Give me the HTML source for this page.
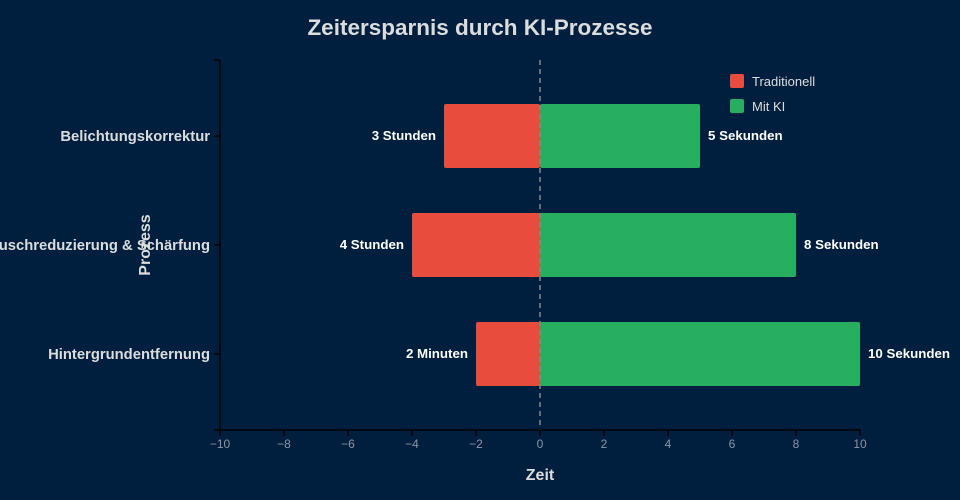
<!DOCTYPE html>
<html><head><meta charset="utf-8"><style>
html,body{margin:0;padding:0;background:#001f3f;}
svg{display:block;font-family:"Liberation Sans",sans-serif;}
</style></head><body>
<svg width="960" height="500" viewBox="0 0 960 500">
<rect width="960" height="500" fill="#001f3f"/>
<text x="480" y="35" text-anchor="middle" font-size="22.5" font-weight="bold" fill="#dcdcdc">Zeitersparnis durch KI-Prozesse</text>
<rect x="444" y="104" width="96" height="64" rx="2" fill="#e74c3c"/>
<rect x="540" y="104" width="160" height="64" rx="2" fill="#27ae60"/>
<rect x="412" y="213" width="128" height="64" rx="2" fill="#e74c3c"/>
<rect x="540" y="213" width="256" height="64" rx="2" fill="#27ae60"/>
<rect x="476" y="322" width="64" height="64" rx="2" fill="#e74c3c"/>
<rect x="540" y="322" width="320" height="64" rx="2" fill="#27ae60"/>
<line x1="540" y1="60" x2="540" y2="430" stroke="#888" stroke-width="1.5" stroke-dasharray="5,4"/>
<g font-size="13.3" font-weight="bold" fill="#fff">
<text x="436" y="140" text-anchor="end">3 Stunden</text>
<text x="708" y="140">5 Sekunden</text>
<text x="404" y="249" text-anchor="end">4 Stunden</text>
<text x="804" y="249">8 Sekunden</text>
<text x="468" y="358" text-anchor="end">2 Minuten</text>
<text x="868" y="358">10 Sekunden</text>
</g>
<g stroke="#000" stroke-width="1.5">
<line x1="220" y1="60" x2="220" y2="430"/>
<line x1="214" y1="430" x2="860" y2="430"/>
<line x1="214" y1="60" x2="220" y2="60"/>
<line x1="214" y1="136" x2="220" y2="136"/>
<line x1="214" y1="245" x2="220" y2="245"/>
<line x1="214" y1="354" x2="220" y2="354"/>
<line x1="220" y1="430" x2="220" y2="436"/><line x1="284" y1="430" x2="284" y2="436"/>
<line x1="348" y1="430" x2="348" y2="436"/><line x1="412" y1="430" x2="412" y2="436"/>
<line x1="476" y1="430" x2="476" y2="436"/><line x1="540" y1="430" x2="540" y2="436"/>
<line x1="604" y1="430" x2="604" y2="436"/><line x1="668" y1="430" x2="668" y2="436"/>
<line x1="732" y1="430" x2="732" y2="436"/><line x1="796" y1="430" x2="796" y2="436"/>
<line x1="860" y1="430" x2="860" y2="436"/>
</g>
<g font-size="12" fill="#8a95a5" text-anchor="middle">
<text x="220" y="448">−10</text><text x="284" y="448">−8</text><text x="348" y="448">−6</text>
<text x="412" y="448">−4</text><text x="476" y="448">−2</text><text x="540" y="448">0</text>
<text x="604" y="448">2</text><text x="668" y="448">4</text><text x="732" y="448">6</text>
<text x="796" y="448">8</text><text x="860" y="448">10</text>
</g>
<g font-size="14.8" font-weight="bold" fill="#dcdcdc" text-anchor="end">
<text x="210" y="141">Belichtungskorrektur</text>
<text x="210" y="250">Rauschreduzierung &amp; Schärfung</text>
<text x="210" y="359">Hintergrundentfernung</text>
</g>
<text x="540" y="480" text-anchor="middle" font-size="16" font-weight="bold" fill="#dcdcdc">Zeit</text>
<text transform="translate(150,245) rotate(-90)" text-anchor="middle" font-size="16" font-weight="bold" fill="#dcdcdc">Prozess</text>
<rect x="730" y="74" width="14" height="14" rx="2" fill="#e74c3c"/>
<text x="752" y="86" font-size="13" fill="#dcdcdc">Traditionell</text>
<rect x="730" y="99" width="14" height="14" rx="2" fill="#27ae60"/>
<text x="752" y="111" font-size="13" fill="#dcdcdc">Mit KI</text>
</svg>
</body></html>
